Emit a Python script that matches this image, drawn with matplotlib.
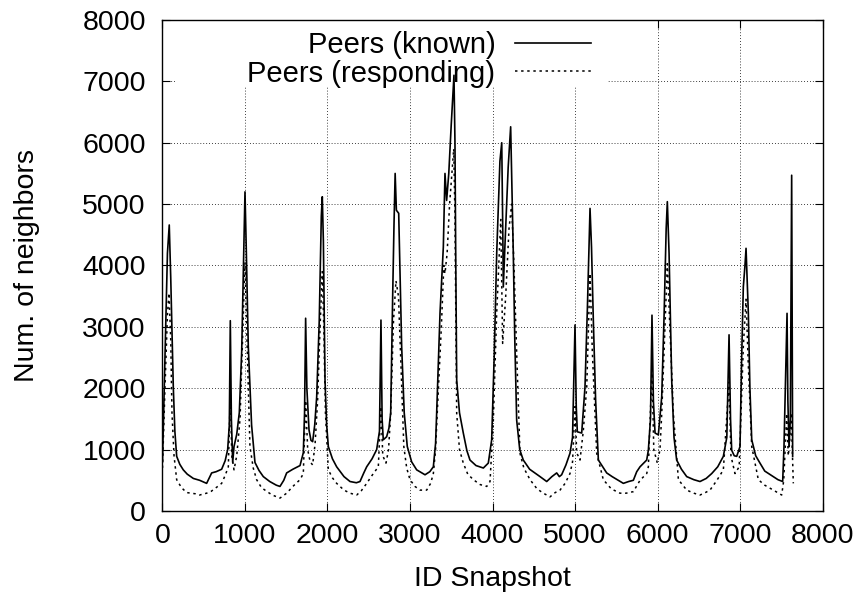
import matplotlib
matplotlib.use("Agg")
import matplotlib.pyplot as plt

plt.rcParams['font.family'] = ['Liberation Sans', 'DejaVu Sans']

# snapshot ids / number of known peers
known_x = [0, 30, 60, 82, 100, 131, 150, 172, 210, 252, 300, 374, 450, 535, 560, 596, 650, 717, 760, 790,
           810, 822, 835, 851, 867, 900, 931, 960, 985, 1000, 1015, 1040, 1080, 1121, 1170, 1222, 1300, 1380,
           1424, 1470, 1505, 1580, 1667, 1707, 1722, 1735, 1750, 1776, 1800, 1820, 1845, 1869, 1900, 1925,
           1937, 1950, 1970, 1990, 2010, 2060, 2111, 2200, 2273, 2350, 2394, 2440, 2475, 2540, 2596, 2630,
           2648, 2662, 2676, 2717, 2745, 2766, 2790, 2806, 2820, 2835, 2863, 2880, 2899, 2930, 2967, 3020,
           3081, 3182, 3240, 3283, 3310, 3323, 3364, 3404, 3424, 3444, 3470, 3500, 3533, 3545, 3555, 3566,
           3600, 3646, 3690, 3727, 3800, 3889, 3949, 3990, 4020, 4051, 4090, 4112, 4125, 4131, 4150, 4190,
           4220, 4235, 4252, 4270, 4293, 4330, 4373, 4450, 4576, 4657, 4720, 4778, 4810, 4838, 4890, 4939,
           4970, 5000, 5015, 5028, 5081, 5121, 5150, 5182, 5200, 5222, 5250, 5283, 5384, 5450, 5586, 5650,
           5707, 5748, 5788, 5869, 5889, 5915, 5933, 5950, 5970, 6010, 6051, 6080, 6105, 6119, 6140, 6172,
           6200, 6232, 6290, 6354, 6440, 6515, 6590, 6657, 6730, 6798, 6840, 6867, 6885, 6899, 6930, 6960,
           7000, 7020, 7040, 7060, 7073, 7101, 7120, 7142, 7190, 7242, 7300, 7404, 7460, 7517, 7533, 7570,
           7580, 7594, 7610, 7626, 7638]
known_y = [800, 2500, 4200, 4660, 3800, 2020, 1300, 890, 760, 670, 600, 530, 500, 450, 520, 620, 640, 680, 820, 1000,
           1400, 3100, 1500, 790, 1050, 1250, 1600, 2600, 4200, 5200, 4300, 2680, 1400, 790, 660, 560, 480, 420,
           400, 500, 620, 680, 740, 950, 1600, 3140, 2000, 1320, 1150, 1130, 1400, 1860, 3100, 4800,
           5120, 4400, 2130, 1400, 1050, 850, 720, 560, 480, 460, 480, 620, 720, 850, 1000, 1300,
           3110, 1500, 1160, 1210, 1350, 1600, 3500, 4660, 5500, 4900, 4850, 3800, 2680, 1600, 1050, 800,
           670, 590, 640, 720, 1100, 1590, 3230, 4300, 5500, 5060, 5500, 6300, 7100, 6000, 4000, 2130,
           1600, 1270, 980, 830, 740, 700, 780, 1160, 2500, 4200, 5700, 6000, 4500, 3650, 4300, 5600,
           6260, 5300, 4200, 2800, 1480, 1000, 830, 680, 560, 480, 560, 620, 560, 590, 750, 940,
           1200, 3030, 1700, 1290, 1270, 2020, 3300, 4930, 4300, 3110, 1800, 830, 620, 560, 450, 480,
           500, 640, 720, 830, 990, 1500, 3190, 1800, 1270, 1240, 1860, 3200, 4600, 5040, 4200, 2130,
           1200, 830, 680, 560, 510, 480, 530, 610, 720, 890, 1200, 2870, 1500, 990, 900, 890,
           1050, 2500, 3650, 4000, 4280, 3220, 2000, 1160, 900, 780, 650, 560, 510, 480, 1050, 3220,
           1800, 1050, 1500, 5470, 890]

# snapshot ids / number of responding peers
resp_x = [0, 30, 60, 79, 100, 115, 140, 172, 230, 293, 400, 450, 535, 590, 650, 717, 760, 798, 822, 840,
          867, 900, 940, 975, 1000, 1020, 1060, 1100, 1141, 1200, 1263, 1330, 1424, 1505, 1580, 1667, 1707,
          1735, 1760, 1790, 1820, 1850, 1880, 1910, 1937, 1955, 1975, 2010, 2060, 2111, 2200, 2273, 2354,
          2410, 2475, 2540, 2616, 2648, 2670, 2709, 2740, 2766, 2800, 2830, 2860, 2890, 2925, 2960, 3000,
          3060, 3121, 3202, 3250, 3283, 3310, 3330, 3380, 3410, 3424, 3450, 3480, 3530, 3545, 3566, 3600,
          3646, 3700, 3768, 3850, 3930, 3970, 4010, 4050, 4100, 4123, 4160, 4200, 4232, 4260, 4293, 4333,
          4380, 4455, 4540, 4616, 4697, 4760, 4818, 4880, 4939, 4970, 5000, 5020, 5061, 5100, 5142, 5182,
          5210, 5263, 5343, 5440, 5545, 5620, 5707, 5788, 5869, 5889, 5933, 5955, 5998, 6030, 6051, 6090,
          6119, 6150, 6192, 6253, 6354, 6440, 6515, 6580, 6636, 6720, 6798, 6867, 6890, 6939, 6990, 7040,
          7073, 7100, 7142, 7222, 7300, 7404, 7505, 7530, 7566, 7585, 7600, 7620, 7646]
resp_y = [700, 2000, 3200, 3550, 2800, 1600, 900, 510, 380, 300, 280, 260, 290, 320, 380, 450, 580, 720, 1900, 900,
          670, 900, 1500, 3000, 4050, 3000, 1050, 700, 510, 380, 320, 260, 210, 290, 400, 510, 610,
          1800, 1000, 800, 750, 1100, 1800, 3000, 3900, 3000, 1600, 670, 540, 450, 340, 290, 260,
          330, 450, 580, 720, 1700, 900, 780, 1000, 1590, 3100, 3750, 3500, 2400, 1050, 700, 510,
          400, 340, 340, 450, 610, 1000, 1590, 3000, 4000, 3870, 4200, 5000, 5900, 4800, 1590, 1000,
          780, 600, 510, 430, 400, 480, 1480, 3200, 4750, 2730, 3500, 4600, 5000, 4000, 2570, 940,
          700, 510, 360, 290, 230, 300, 340, 450, 610, 800, 1700, 950, 830, 1300, 2020, 3870,
          2600, 940, 510, 360, 290, 290, 315, 500, 610, 720, 2300, 1000, 780, 1000, 1590, 3000,
          4030, 3000, 1590, 510, 340, 290, 260, 300, 340, 500, 670, 2100, 900, 610, 720, 2680,
          3450, 2400, 1050, 510, 420, 340, 260, 500, 1590, 900, 1100, 1600, 450]

ticks = [0, 1000, 2000, 3000, 4000, 5000, 6000, 7000, 8000]

fig = plt.figure(figsize=(8.62, 6.02), dpi=100)
ax = fig.add_axes([0.1885, 0.1512, 0.7657, 0.8156])

ax.plot(known_x, known_y, color='black', lw=1.2, label='Peers (known)', zorder=3)
ax.plot(resp_x, resp_y, color='black', lw=1.1, linestyle=(0, (1.6, 2.4)),
        label='Peers (responding)', zorder=3)

ax.set_xlim(0, 8000)
ax.set_ylim(0, 8000)
ax.set_xticks(ticks)
ax.set_yticks(ticks)
ax.tick_params(direction='in', top=True, right=True, length=5.5, width=0.8, labelsize=20.5)
ax.tick_params(axis='y', pad=12)
ax.tick_params(axis='x', pad=9)
ax.grid(True, color='black', lw=0.6, linestyle=(0, (1, 2.5)))
ax.set_axisbelow(True)
for s in ax.spines.values():
    s.set_linewidth(1.0)

ax.set_xlabel('ID Snapshot', fontsize=20.5)
ax.set_ylabel('Num. of neighbors', fontsize=20.5)
ax.xaxis.set_label_coords(0.5, -0.112)
ax.yaxis.set_label_coords(-0.186, 0.5)

# white area behind the key hides the grid there
ax.add_patch(plt.Rectangle((0.02, 0.866), 0.655, 0.134, transform=ax.transAxes,
                           facecolor='white', edgecolor='none', zorder=1.5))
leg = ax.legend(loc='upper right', bbox_to_anchor=(0.6492, 0.9775), markerfirst=False,
                frameon=False, fontsize=21, handlelength=2.6, handletextpad=0.68,
                borderpad=0, borderaxespad=0, labelspacing=0.02)
leg.set_zorder(2)

fig.savefig('out.png', dpi=100)
